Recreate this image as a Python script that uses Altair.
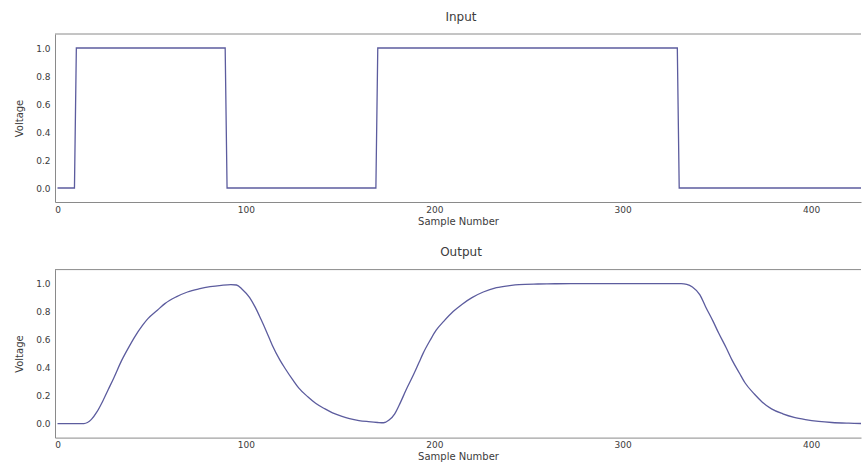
import altair as alt
import pandas as pd

# Input square wave (sample number, voltage)
in_x = [0, 9, 10, 89, 90, 169, 170, 329, 330, 430]
in_v = [0, 0, 1, 1, 0, 0, 1, 1, 0, 0]

# Output response
out_x = [0, 14, 18, 21, 24, 27, 30, 34, 38, 41, 45, 48, 53, 57, 63, 69, 75, 81, 87,
         92, 95, 98, 102, 105, 108, 111, 114, 118, 121, 125, 128, 133, 137, 142, 146,
         151, 155, 160, 165, 170, 173, 176, 179, 182, 185, 189, 192, 194, 198, 201,
         205, 210, 215, 220, 226, 233, 240, 245, 255, 265, 277, 300, 320, 331, 334,
         337, 341, 344, 348, 351, 355, 358, 362, 365, 370, 374, 379, 385, 391, 397,
         404, 411, 420, 430]
out_v = [0.0, 0.0, 0.03, 0.085, 0.16, 0.245, 0.33, 0.45, 0.55, 0.62, 0.70, 0.75, 0.81,
         0.857, 0.905, 0.94, 0.962, 0.978, 0.988, 0.993, 0.99, 0.96, 0.90, 0.83, 0.745,
         0.655, 0.56, 0.455, 0.39, 0.31, 0.255, 0.19, 0.145, 0.105, 0.077, 0.052, 0.036,
         0.022, 0.014, 0.008, 0.006, 0.025, 0.07, 0.15, 0.24, 0.35, 0.44, 0.50, 0.60,
         0.667, 0.73, 0.80, 0.855, 0.90, 0.94, 0.971, 0.986, 0.993, 0.997, 0.999, 1.0,
         1.0, 1.0, 1.0, 0.995, 0.976, 0.92, 0.835, 0.73, 0.645, 0.54, 0.455, 0.36, 0.29,
         0.21, 0.155, 0.105, 0.07, 0.045, 0.029, 0.016, 0.008, 0.003, 0.0]

x_ticks = [0, 100, 200, 300, 400]
y_ticks = [0.0, 0.2, 0.4, 0.6, 0.8, 1.0]

FONT = "DejaVu Sans"
LINE = "#5c5c9e"
FRAME = "#8a8a8a"
TEXT = "#3c3c3c"
X_DOMAIN = [-1.33, 426.5]
Y_DOMAIN = [-0.1, 1.1]


def panel(xs, vs, name, interp):
    df = pd.DataFrame({"x": xs, "v": vs})
    line = alt.Chart(df).mark_line(color=LINE, strokeWidth=1.3, clip=True,
                                   interpolate=interp).encode(
        x=alt.X("x:Q",
                scale=alt.Scale(domain=X_DOMAIN, nice=False, zero=False),
                axis=alt.Axis(title="Sample Number", values=x_ticks, format="d",
                              ticks=False, labelPadding=3, titlePadding=2,
                              domainColor=FRAME, labelFlush=False,
                              labelOverlap=False)),
        y=alt.Y("v:Q",
                scale=alt.Scale(domain=Y_DOMAIN, nice=False, zero=False),
                axis=alt.Axis(title="Voltage", values=y_ticks, format=".1f",
                              ticks=False, labelPadding=5, titlePadding=11,
                              domainColor=FRAME, labelOverlap=False,
                              labelFlush=False)),
    )
    top = alt.Chart(pd.DataFrame({"t": [0]})).mark_rule(color=FRAME, strokeWidth=1).encode(
        y=alt.value(0)
    )
    return alt.layer(line, top).properties(
        width=806, height=168,
        title=alt.TitleParams(name, dx=3, offset=10, fontSize=12, font=FONT,
                              fontWeight="normal", color=TEXT),
    )


chart = alt.vconcat(
    panel(in_x, in_v, "Input", "linear"),
    panel(out_x, out_v, "Output", "monotone"),
    spacing=67.6,
    bounds="flush",
).properties(
    padding={"left": 14, "top": 10, "right": 0, "bottom": 0},
    background="white",
).configure_view(
    stroke=None
).configure_axis(
    grid=False,
    labelFont=FONT, titleFont=FONT,
    labelFontSize=9, titleFontSize=10,
    titleFontWeight="normal",
    labelColor=TEXT, titleColor=TEXT,
)

chart.save("out.html", embed_options={"renderer": "svg", "actions": False})
